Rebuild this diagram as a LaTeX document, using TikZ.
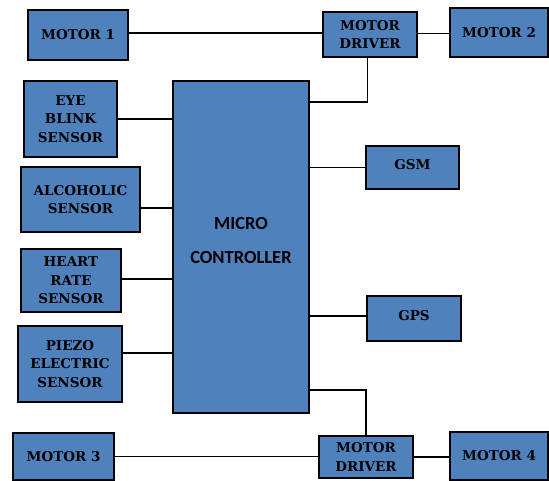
\documentclass[tikz,border=0pt]{standalone}
\usepackage{fontspec}
\newfontfamily\mcfont{Carlito}
\newfontfamily\boxfont{DejaVu Serif}
\definecolor{boxblue}{RGB}{79,129,189}
\begin{document}
\begin{tikzpicture}[x=1pt,y=-1pt,
  box/.style={draw=black, line width=1.7pt, fill=boxblue, inner sep=0pt, align=center,
    font=\boxfont\bfseries\fontsize{13.5}{18.5}\selectfont},
  mctext/.style={font=\mcfont\bfseries\fontsize{18.5}{22}\selectfont, anchor=base, inner sep=0pt},
  wire/.style={draw=black, line width=1.7pt}]
\useasboundingbox (0,0) rectangle (549,481);
% boxes
\node[box, minimum width=100pt, minimum height=50pt] (m1) at (78,35) {MOTOR 1};
\node[box, minimum width=94pt, minimum height=45pt] (md1) at (370,34.5) {MOTOR\\DRIVER};
\node[box, minimum width=98pt, minimum height=49pt] (m2) at (499,32.5) {MOTOR 2};
\node[box, minimum width=93pt, minimum height=76pt] (eye) at (70.5,119) {EYE\\BLINK\\SENSOR};
\node[box, minimum width=119pt, minimum height=65pt] (alc) at (80.5,199.5) {ALCOHOLIC\\SENSOR};
\node[box, minimum width=100pt, minimum height=63pt] (hr) at (71,280.5) {HEART\\RATE\\SENSOR};
\node[box, minimum width=104pt, minimum height=76pt] (pz) at (70,364) {PIEZO\\ELECTRIC\\SENSOR};
\node[box, minimum width=136pt, minimum height=332pt] (mc) at (241,247) {};
\node[mctext] (mct1) at (241,230) {MICRO};
\node[mctext] (mct2) at (241,264) {CONTROLLER};
\node[box, minimum width=93pt, minimum height=43pt] (gsm) at (412.5,167.5) {\raisebox{7pt}{GSM}};
\node[box, minimum width=94pt, minimum height=45pt] (gps) at (414,318.5) {\raisebox{6pt}{GPS}};
\node[box, minimum width=101pt, minimum height=47pt] (m3) at (63.5,456.5) {MOTOR 3};
\node[box, minimum width=94pt, minimum height=42pt] (md2) at (366,457) {MOTOR\\DRIVER};
\node[box, minimum width=98pt, minimum height=48pt] (m4) at (499,456) {MOTOR 4};
% connectors
\draw[wire] ([yshift=2pt]m1.east) -- ([yshift=2pt]m1.east -| md1.west);
\draw[wire] ([yshift=1pt]md1.east) -- ([yshift=1pt]md1.east -| m2.west);
\draw[wire] ([xshift=-2.5pt]md1.south) |- ([yshift=-22pt]mc.north east);
\draw[wire] (eye.east) -- (eye.east -| mc.west);
\draw[wire] ([yshift=-8.5pt]alc.east) -- ([yshift=-8.5pt]alc.east -| mc.west);
\draw[wire] ([yshift=1.5pt]hr.east) -- ([yshift=1.5pt]hr.east -| mc.west);
\draw[wire] ([yshift=11pt]pz.east) -- ([yshift=11pt]pz.east -| mc.west);
\draw[wire] (mc.east |- gsm.west) -- (gsm.west);
\draw[wire] ([yshift=2.5pt]gps.west -| mc.east) -- ([yshift=2.5pt]gps.west);
\draw[wire] ([yshift=24pt]mc.south east) -| (md2.north);
\draw[wire] (m3.east) -- (m3.east -| md2.west);
\draw[wire] (md2.east) -- (md2.east -| m4.west);
\end{tikzpicture}
\end{document}
